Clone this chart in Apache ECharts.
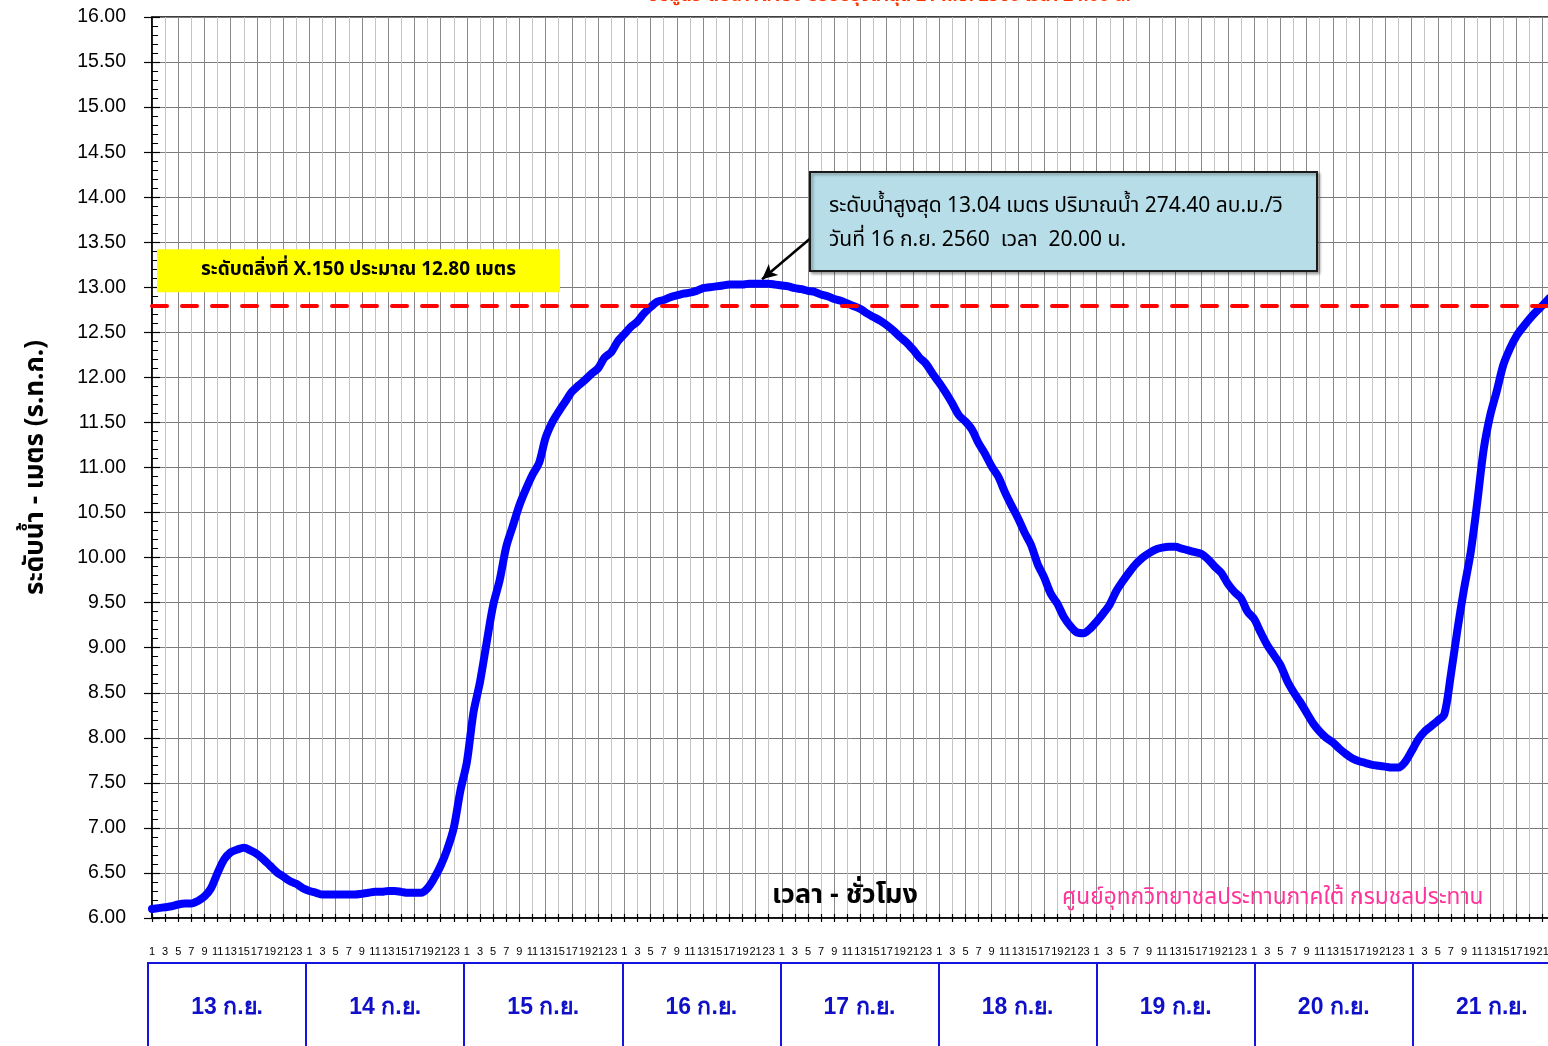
<!DOCTYPE html>
<html><head><meta charset="utf-8">
<script src="https://cdn.jsdelivr.net/npm/echarts@6/dist/echarts.min.js"></script>
<style>html,body{margin:0;padding:0;background:#fff;overflow:hidden}#c{width:1548px;height:1046px}</style>
</head><body><div id="c"></div>
<script>
// ---- data ----
const days = ['13 ก.ย.','14 ก.ย.','15 ก.ย.','16 ก.ย.','17 ก.ย.','18 ก.ย.','19 ก.ย.','20 ก.ย.','21 ก.ย.'];
const hourLabels = ['1','2','3','4','5','6','7','8','9','10','11','12','13','14','15','16','17','18','19','20','21','22','23','24'];
const yTickLabels = ['6.00','6.50','7.00','7.50','8.00','8.50','9.00','9.50','10.00','10.50','11.00','11.50','12.00','12.50','13.00','13.50','14.00','14.50','15.00','15.50','16.00'];
const levels = [
 6.10,6.11,6.12,6.13,6.15,6.16,6.16,6.19,6.24,6.33,
 6.50,6.65,6.73,6.76,6.78,6.75,6.71,6.65,6.58,6.51,
 6.46,6.41,6.38,6.33,6.30,6.28,6.26,6.26,6.26,6.26,
 6.26,6.26,6.27,6.28,6.29,6.29,6.30,6.30,6.29,6.28,
 6.28,6.28,6.33,6.44,6.58,6.76,7.00,7.41,7.73,8.28,
 8.62,9.05,9.47,9.75,10.12,10.35,10.58,10.76,10.92,11.05,
 11.33,11.50,11.62,11.73,11.84,11.91,11.97,12.04,12.10,12.22,
 12.28,12.40,12.48,12.56,12.62,12.71,12.78,12.84,12.86,12.89,
 12.91,12.93,12.94,12.96,12.99,13.00,13.01,13.02,13.03,13.03,
 13.03,13.04,13.04,13.04,13.04,13.03,13.02,13.01,12.99,12.98,
 12.96,12.95,12.92,12.90,12.87,12.85,12.82,12.79,12.76,12.71,
 12.67,12.63,12.58,12.52,12.45,12.39,12.31,12.22,12.15,12.04,
 11.94,11.83,11.71,11.58,11.51,11.42,11.27,11.15,11.01,10.90,
 10.73,10.58,10.44,10.28,10.14,9.93,9.78,9.60,9.49,9.34,
 9.24,9.17,9.16,9.21,9.29,9.38,9.48,9.63,9.74,9.84,
 9.93,10.00,10.05,10.09,10.11,10.12,10.12,10.10,10.08,10.06,
 10.04,9.98,9.90,9.83,9.71,9.62,9.55,9.40,9.32,9.17,
 9.03,8.92,8.81,8.64,8.51,8.40,8.28,8.16,8.07,8.00,
 7.95,7.88,7.82,7.77,7.74,7.72,7.70,7.69,7.68,7.67,
 7.67,7.73,7.85,7.98,8.07,8.13,8.19,8.26,8.70,9.20,
 9.65,10.05,10.60,11.20,11.58,11.85,12.14,12.32,12.46,12.56,
 12.65,12.73,12.80,12.88
];
const bankLevel = 12.80;
const peakLevel = 13.04;
const peakHourIndex = 93;

// ---- build ----
const cats = [];
days.forEach((d, di) => hourLabels.forEach(h => cats.push(di + '|' + h)));
const yMin = parseFloat(yTickLabels[0]), yMax = parseFloat(yTickLabels[yTickLabels.length - 1]);
const yStep = parseFloat(yTickLabels[1]) - yMin;

const FONT = 'Arial, "Liberation Sans", sans-serif';
const THAI = 'Tahoma, "Noto Sans Thai", "Noto Sans", sans-serif';
const HOUR_PX = 6.56;

const chart = echarts.init(document.getElementById('c'), null, {renderer: 'canvas'});
const option = {
  animation: false,
  backgroundColor: '#ffffff',
  grid: [
    {left: 152, top: 17, width: (cats.length - 1) * HOUR_PX, height: 901, show: true, borderColor: '#000', borderWidth: 1.5, containLabel: false, outerBoundsMode: 'none'},
    {left: 148, top: 963, width: days.length * 158.1, height: 140, show: true, borderColor: '#1414e0', borderWidth: 2, containLabel: false, outerBoundsMode: 'none'}
  ],
  xAxis: [
    {type: 'category', gridIndex: 0, data: cats, boundaryGap: false, position: 'bottom',
     axisLine: {show: true, lineStyle: {color: '#000', width: 1.5}},
     axisTick: {show: true, interval: (i) => i % 2 === 0, length: 4, lineStyle: {color: '#000', width: 1.2}},
     axisLabel: {interval: (i) => i % 2 === 0, margin: 28, fontSize: 11, color: '#000', fontFamily: FONT, formatter: v => v.split('|')[1]},
     splitLine: {show: true, interval: (i) => i % 4 === 0, lineStyle: {color: '#8a8a8a', width: 1}}},
    {type: 'category', gridIndex: 0, data: cats, boundaryGap: false, position: 'bottom',
     axisLine: {show: false},
     axisTick: {show: true, inside: true, interval: (i) => i % 2 === 0, length: 4, lineStyle: {color: '#000', width: 1.2}},
     axisLabel: {show: false},
     splitLine: {show: true, interval: (i) => i % 4 === 2, lineStyle: {color: '#c4c4c4', width: 1}}},
    {type: 'category', gridIndex: 1, data: days, boundaryGap: true, position: 'top',
     axisLine: {show: false}, axisTick: {show: false},
     axisLabel: {inside: true, margin: 33, fontSize: 23, fontWeight: 'bold', color: '#1010c8', fontFamily: FONT},
     splitLine: {show: true, interval: 0, lineStyle: {color: '#1414e0', width: 2}}}
  ],
  yAxis: [
    {type: 'value', gridIndex: 0, min: yMin, max: yMax, interval: yStep, position: 'left',
     axisLine: {show: true, lineStyle: {color: '#000', width: 1.5}},
     axisTick: {show: true, length: 8, lineStyle: {color: '#000', width: 1.2}},
     axisLabel: {margin: 26, fontSize: 19.5, color: '#000', fontFamily: FONT, formatter: v => v.toFixed(2)},
     splitLine: {show: true, lineStyle: {color: '#7a7a7a', width: 1}},
     name: 'ระดับน้ำ - เมตร (ร.ท.ก.)', nameLocation: 'middle', nameGap: 101,
     nameTextStyle: {fontSize: 26, fontWeight: 'bold', color: '#000', fontFamily: THAI}},
    {type: 'value', gridIndex: 0, min: yMin, max: yMax, interval: yStep, position: 'left', offset: 0,
     axisLine: {show: false},
     axisTick: {show: true, inside: true, length: 8, lineStyle: {color: '#000', width: 1.2}},
     minorTick: {show: true, splitNumber: 5, length: 6, lineStyle: {color: '#000', width: 1}},
     axisLabel: {show: false}, splitLine: {show: false}},
    {type: 'value', gridIndex: 1, show: false, min: 0, max: 1}
  ],
  series: [{
    type: 'line', xAxisIndex: 0, yAxisIndex: 0, data: levels, smooth: 0.3,
    symbol: 'none', showSymbol: false, z: 5,
    lineStyle: {color: '#0000ff', width: 8, cap: 'round', join: 'round'},
    markLine: {
      silent: true, symbol: 'none', animation: false, z: 6,
      data: [
        {yAxis: bankLevel,
         lineStyle: {color: '#ff0000', width: 4, type: [15, 15], cap: 'round'},
         label: {show: true, position: 'insideStartTop', distance: [5, 13],
           formatter: 'ระดับตลิ่งที่ X.150 ประมาณ ' + bankLevel.toFixed(2) + ' เมตร',
           backgroundColor: '#ffff00', padding: [12, 44, 12, 44],
           fontSize: 19, fontWeight: 'bold', color: '#000', fontFamily: THAI}},
        [
          {x: 812, y: 237, symbol: 'none', lineStyle: {color: '#000', width: 2.5, type: 'solid'}, label: {show: false}},
          {coord: [peakHourIndex, peakLevel + 0.05], symbol: 'arrow', symbolSize: [11, 15], lineStyle: {color: '#000', width: 2.5, type: 'solid'}, label: {show: false}}
        ]
      ]
    }
  }, {
    type: 'line', xAxisIndex: 2, yAxisIndex: 2, data: [], silent: true
  }],
  graphic: [
    {type: 'rect', z: 20, shape: {x: 810, y: 172, width: 507, height: 99},
     style: {fill: '#b7dee8', stroke: '#1a1a1a', lineWidth: 2, shadowBlur: 3, shadowOffsetX: 2, shadowOffsetY: 2, shadowColor: 'rgba(0,0,0,0.35)'}},
    {type: 'text', z: 21, x: 829, y: 208,
     style: {text: 'ระดับน้ำสูงสุด ' + peakLevel.toFixed(2) + ' เมตร ปริมาณน้ำ 274.40 ลบ.ม./วิ', font: '21px ' + THAI, fill: '#000', verticalAlign: 'middle', align: 'left'}},
    {type: 'text', z: 21, x: 829, y: 242,
     style: {text: 'วันที่ 16 ก.ย. 2560  เวลา  20.00 น.', font: '21px ' + THAI, fill: '#000', verticalAlign: 'middle', align: 'left'}},
    {type: 'text', z: 21, x: 845, y: 898,
     style: {text: 'เวลา - ชั่วโมง', font: 'bold 27px ' + THAI, fill: '#000', verticalAlign: 'middle', align: 'center'}},
    {type: 'text', z: 21, x: 1062, y: 899,
     style: {text: 'ศูนย์อุทกวิทยาชลประทานภาคใต้ กรมชลประทาน', font: '22.7px ' + THAI, fill: '#ff3399', verticalAlign: 'middle', align: 'left'}},
    {type: 'text', z: 21, x: 648, y: 6,
     style: {text: 'ข้อมูลระดับน้ำ X.150 ปรับปรุงล่าสุด 21 ก.ย. 2560 เวลา 24.00 น.', font: 'bold 18px ' + THAI, fill: '#ff3300', verticalAlign: 'bottom', align: 'left'}}
  ]
};
chart.setOption(option);
</script></body></html>
